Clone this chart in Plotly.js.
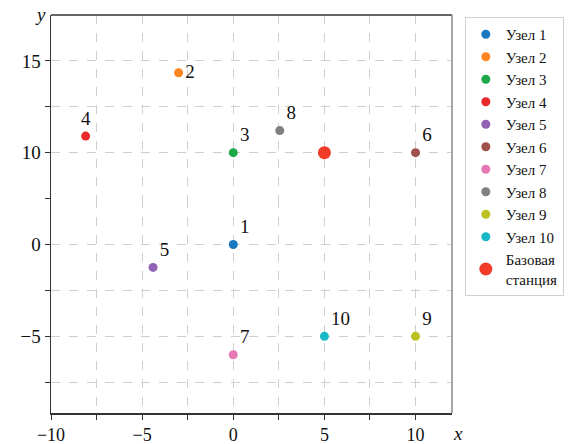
<!DOCTYPE html>
<html>
<head>
<meta charset="utf-8">
<script src="https://cdn.plot.ly/plotly-3.0.1.min.js"></script>
<style>
html,body{margin:0;padding:0;background:#fff;}
#chart{width:579px;height:444px;}
svg text{font-family:'Liberation Serif','Times New Roman',serif !important;}
</style>
</head>
<body>
<div id="chart"></div>
<script>
const nodeNames = ["Узел 1","Узел 2","Узел 3","Узел 4","Узел 5","Узел 6","Узел 7","Узел 8","Узел 9","Узел 10"];
const nodeLabels = ["1","2","3","4","5","6","7","8","9","10"];
const nodeX = [0, -3, 0, -8.1, -4.4, 10, 0, 2.55, 10, 5];
const nodeY = [0, 14.35, 10, 10.9, -1.25, 10, -6, 11.2, -5, -5];
const nodeColors = ["#1a78c0","#ff8522","#1fa84a","#e8282a","#9162b4","#a0504a","#e878b4","#7f7f84","#bcc022","#18b8c8"];
const baseName = "Базовая<br>станция";
const baseX = [5];
const baseY = [10];
const baseColor = "#f03c28";
// x axis ticks
const xTickVals = [-10,-7.5,-5,-2.5,0,2.5,5,7.5,10];
const xTickText = ["−10","","−5","","0","","5","","10"];
// y axis is broken between 2.5 and 7.5 (upper and lower parts)
const yUpperTickVals = [7.5,10,12.5,15];
const yUpperTickText = ["","10","","15"];
const yLowerTickVals = [-7.5,-5,-2.5,0,2.5];
const yLowerTickText = ["","−5","","0",""];
const yBreak = 5; // values above go on the upper part

const labelPos = ["top right","middle right","top right","top center","top right","top right","top right","top right","top right","top right"];

const font = "Liberation Serif";
const traces = nodeNames.map((n,i)=>({
  type:"scatter", mode:"markers+text", name:n,
  x:[nodeX[i]], y:[nodeY[i]], text:[nodeLabels[i]],
  yaxis: nodeY[i] > yBreak ? "y2" : "y",
  textposition:labelPos[i],
  textfont:{family:font,size:19,color:"#111"},
  marker:{color:nodeColors[i],size:9},
  cliponaxis:false
}));
traces.push({type:"scatter",mode:"markers",name:baseName,x:baseX,y:baseY,
  yaxis: baseY[0] > yBreak ? "y2" : "y",
  marker:{color:baseColor,size:13}});

const brk = (413-198.5)/398;
const gridStyle = {showgrid:true,gridcolor:"#cfcfcf",griddash:"dash",gridwidth:1,zeroline:false};
const layout = {
  width:579,height:444,
  margin:{l:51,r:127,t:15,b:31},
  paper_bgcolor:"#fff",plot_bgcolor:"#fff",
  font:{family:font,size:19,color:"#111"},
  showlegend:true,
  legend:{x:1.032,y:0.995,xanchor:"left",yanchor:"top",
    bordercolor:"#d0d0d0",borderwidth:1,bgcolor:"#fff",
    font:{family:font,size:15,color:"#111"},
    itemsizing:"trace",tracegroupgap:0,itemwidth:20},
  xaxis:Object.assign({range:[-10,12],tickmode:"array",tickvals:xTickVals,ticktext:xTickText,
    showline:true,linecolor:"#333",linewidth:1.5,anchor:"y",
    ticks:"outside",ticklen:5,tickcolor:"#333",
    tickfont:{family:font,size:18,color:"#111"}},gridStyle),
  yaxis:Object.assign({domain:[0,brk],range:[-9.17,2.5],tickmode:"array",tickvals:yLowerTickVals,ticktext:yLowerTickText,
    showline:true,linecolor:"#333",linewidth:1.5,anchor:"x",
    ticks:"outside",ticklen:5,tickcolor:"#333",
    tickfont:{family:font,size:19,color:"#111"}},gridStyle),
  yaxis2:Object.assign({domain:[brk,1],range:[7.5,17.5],tickmode:"array",tickvals:yUpperTickVals,ticktext:yUpperTickText,
    showline:true,linecolor:"#333",linewidth:1.5,anchor:"x",
    ticks:"outside",ticklen:5,tickcolor:"#333",
    tickfont:{family:font,size:19,color:"#111"}},gridStyle),
  shapes:[
    {type:"line",xref:"paper",yref:"paper",x0:0,x1:1,y0:1,y1:1,line:{color:"#333",width:1.5}},
    {type:"line",xref:"paper",yref:"paper",x0:1,x1:1,y0:0,y1:1,line:{color:"#888",width:1.5}}
  ],
  annotations:[
    {text:"<i>y</i>",xref:"paper",yref:"paper",x:-0.027,y:1.0,xanchor:"center",yanchor:"bottom",showarrow:false,font:{family:font,size:19,color:"#111"},yshift:-12},
    {text:"<i>x</i>",xref:"paper",yref:"paper",x:1.015,y:0,xanchor:"center",yanchor:"top",showarrow:false,font:{family:font,size:19,color:"#111"},yshift:-8}
  ]
};
Plotly.newPlot("chart",traces,layout,{displayModeBar:false,staticPlot:true});
</script>
</body>
</html>
